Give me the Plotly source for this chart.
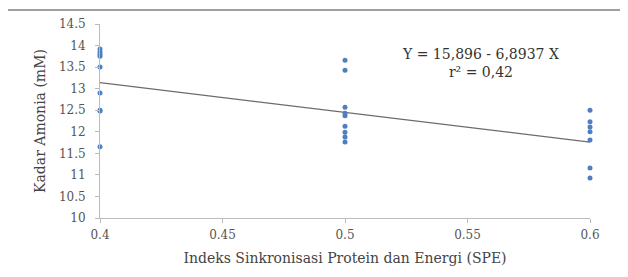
import plotly.graph_objects as go

x_04 = [0.4] * 9
y_04 = [13.92, 13.85, 13.8, 13.75, 13.5, 12.9, 12.5, 12.48, 11.65]
x_05 = [0.5] * 9
y_05 = [13.66, 13.43, 12.57, 12.43, 12.37, 12.13, 11.99, 11.88, 11.76]
x_06 = [0.6] * 7
y_06 = [12.5, 12.23, 12.11, 12.0, 11.81, 11.16, 10.93]

xs = x_04 + x_05 + x_06
ys = y_04 + y_05 + y_06

intercept = 15.896
slope = -6.8937
line_x = [0.4, 0.6]
line_y = [intercept + slope * v for v in line_x]

x_ticks = [0.4, 0.45, 0.5, 0.55, 0.6]
x_tick_labels = ["0.4", "0.45", "0.5", "0.55", "0.6"]
y_ticks = [10, 10.5, 11, 11.5, 12, 12.5, 13, 13.5, 14, 14.5]
y_tick_labels = ["10", "10.5", "11", "11.5", "12", "12.5", "13", "13.5", "14", "14.5"]

font = "DejaVu Serif"

fig = go.Figure()
fig.add_trace(go.Scatter(x=line_x, y=line_y, mode="lines", cliponaxis=False,
                         line=dict(color="#6b6b6b", width=1.3), hoverinfo="skip"))
fig.add_trace(go.Scatter(x=xs, y=ys, mode="markers", cliponaxis=False,
                         marker=dict(color="#4f7fc0", size=5)))

fig.add_annotation(x=0.5555, y=13.6, xref="x", yref="y",
                   text="Y = 15,896 - 6,8937 X<br>r² = 0,42",
                   showarrow=False, align="center",
                   font=dict(family=font, size=14, color="#333333"))

fig.add_shape(type="line", xref="paper", yref="paper",
              x0=-0.19, x1=1.08, y0=1.072, y1=1.072,
              line=dict(color="#a0a0a0", width=2))

fig.update_layout(
    width=620, height=269,
    margin=dict(l=92, r=38, t=16, b=59),
    paper_bgcolor="white", plot_bgcolor="white",
    showlegend=False,
    font=dict(family=font, size=12, color="#555555"),
)
fig.update_xaxes(range=[0.4, 0.6], tickvals=x_ticks, ticktext=x_tick_labels,
                 showgrid=False, zeroline=False, showline=True,
                 linecolor="#bbbbbb", linewidth=1, ticks="outside",
                 tickcolor="#bbbbbb", ticklen=4, automargin=False,
                 ticklabelstandoff=2,
                 title=dict(text="Indeks Sinkronisasi Protein dan Energi (SPE)",
                            font=dict(size=14, color="#444444"), standoff=11))
fig.update_yaxes(range=[10, 14.5], tickvals=y_ticks, ticktext=y_tick_labels,
                 showgrid=False, zeroline=False, showline=True,
                 linecolor="#bbbbbb", linewidth=1, ticks="outside",
                 tickcolor="#bbbbbb", ticklen=4, automargin=False,
                 ticklabelstandoff=7,
                 title=dict(text="Kadar Amonia (mM)",
                            font=dict(size=14, color="#444444"), standoff=9))

fig.write_html("out.html")
